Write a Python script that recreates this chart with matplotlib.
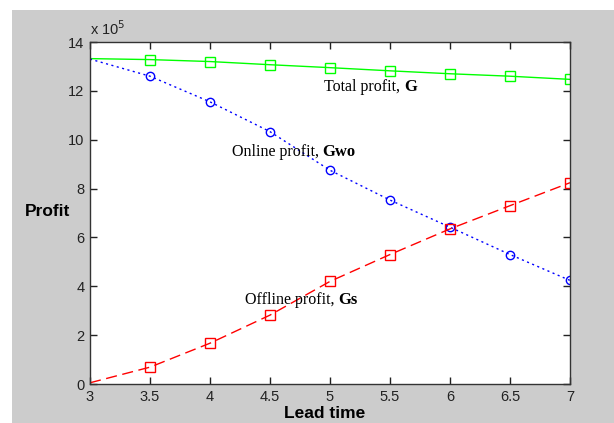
import matplotlib
matplotlib.use("Agg")
import matplotlib.pyplot as plt
from matplotlib.patches import Rectangle

lead_time = [3.0, 3.5, 4.0, 4.5, 5.0, 5.5, 6.0, 6.5, 7.0]
total_profit = [13.32, 13.28, 13.2, 13.07, 12.95, 12.82, 12.7, 12.6, 12.47]
online_profit = [13.3, 12.6, 11.55, 10.33, 8.75, 7.53, 6.42, 5.3, 4.24]
offline_profit = [0.05, 0.69, 1.67, 2.82, 4.2, 5.3, 6.35, 7.3, 8.24]
xticks = [3, 3.5, 4, 4.5, 5, 5.5, 6, 6.5, 7]
yticks = [0, 2, 4, 6, 8, 10, 12, 14]

W, H = 614, 423
fig = plt.figure(figsize=(W / 100, H / 100), dpi=100)
fig.patch.set_facecolor("white")
fig.patches.append(Rectangle((12 / W, 0), 1 - 12 / W, 1 - 10 / H,
                             transform=fig.transFigure, facecolor="#cccccc",
                             edgecolor="none", zorder=-10))

ax = fig.add_axes([90 / W, 1 - 384 / H, (570 - 90) / W, (384 - 42) / H])
ax.set_facecolor("white")

mk = list(range(1, len(lead_time)))
ax.plot(lead_time, total_profit, color="#00ff00", lw=1.0, ls="-",
        marker="s", ms=6.5, mfc="none", mec="#00ff00", mew=1.0, markevery=mk)
ax.plot(lead_time, online_profit, color="#0000ff", lw=1.0, ls=(0, (1.5, 2.5)),
        marker="o", ms=6, mfc="none", mec="#0000ff", mew=1.0, markevery=mk)
ax.plot(lead_time, offline_profit, color="#ff0000", lw=1.0, ls=(0, (8, 4)),
        marker="s", ms=6.5, mfc="none", mec="#ff0000", mew=1.0, markevery=mk)

ax.set_xlim(3, 7)
ax.set_ylim(0, 14)
ax.set_xticks(xticks)
ax.set_xticklabels([f"{t:g}" for t in xticks])
ax.set_yticks(yticks)
ax.set_yticklabels([str(t) for t in yticks])
ax.tick_params(direction="in", top=True, right=True, length=5, width=1,
               labelsize=10.5, colors="#222222", pad=4)
for lab in ax.get_xticklabels() + ax.get_yticklabels():
    lab.set_family("Liberation Sans")
for s in ax.spines.values():
    s.set_linewidth(1.0)
    s.set_color("#333333")

ax.text(3.0, 14.15, r"x 10$^5$", fontsize=10.5, family="Liberation Sans",
        ha="left", va="bottom", color="#222222")

fig.text(48 / W, 1 - 212 / H, "Profit", fontsize=12.5, fontweight="bold",
         family="Liberation Sans", ha="center", va="center")
fig.text(325 / W, 1 - 413 / H, "Lead time", fontsize=12.5, fontweight="bold",
         family="Liberation Sans", ha="center", va="center")

ax.text(4.95, 12.15, "Total profit, ", family="Liberation Serif", fontsize=11.5,
        ha="left", va="center")
ax.annotate("G", xy=(1, 0.5), xycoords=ax.texts[-1], family="Liberation Serif",
            fontsize=12, fontweight="bold", va="center", ha="left")
ax.text(4.18, 9.5, "Online profit, ", family="Liberation Serif", fontsize=11.5,
        ha="left", va="center")
ax.annotate("Gwo", xy=(1, 0.5), xycoords=ax.texts[-1], family="Liberation Serif",
            fontsize=12, fontweight="bold", va="center", ha="left")
ax.text(4.29, 3.45, "Offline profit, ", family="Liberation Serif", fontsize=11.5,
        ha="left", va="center")
ax.annotate("Gs", xy=(1, 0.5), xycoords=ax.texts[-1], family="Liberation Serif",
            fontsize=12, fontweight="bold", va="center", ha="left")

fig.savefig("out.png", dpi=100)
